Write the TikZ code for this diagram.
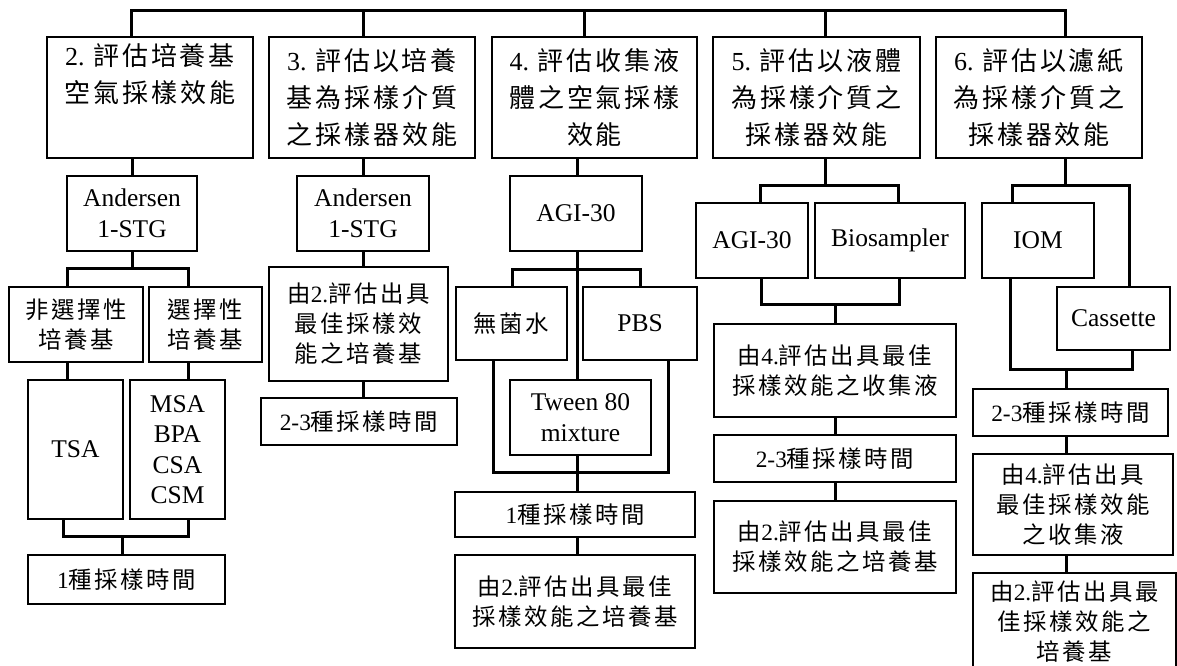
\documentclass[tikz,border=0pt]{standalone}
\usepackage{fontspec}
\setmainfont{Liberation Serif}
\newfontfamily\cjk[LetterSpace=11]{Noto Sans CJK TC}
\newcommand{\zh}[1]{{\cjk #1}}
\newcommand{\bigt}{\fontsize{26}{37}\selectfont}
\newcommand{\midt}{\fontsize{23.4}{30}\selectfont}
\newcommand{\latt}{\fontsize{25.5}{30.5}\selectfont}
\newcommand{\mybox}[7][\midt]{\node[box, font=#1, minimum width={#5-#3}, minimum height={#6-#4}] (#2) at ({(#3+#5)/2},{(#4+#6)/2}) {#7};}
\begin{document}
\begin{tikzpicture}[x=1pt, y=-1pt,
  box/.style={draw, line width=2.8pt, inner sep=0pt, align=center},
  conn/.style={draw, line width=3pt}]
\useasboundingbox (0,0) rectangle (1177,665);
\fill[white] (0,0) rectangle (1177,665);
\clip (0,0) rectangle (1177,665);
% top row
\mybox[\bigt]{t2}{47}{37}{253}{158}{2. \zh{評估培養基}\\\zh{空氣採樣效能}\\\strut}
\mybox[\bigt]{t3}{269}{37}{475}{158}{3. \zh{評估以培養}\\\zh{基為採樣介質}\\\zh{之採樣器效能}}
\mybox[\bigt]{t4}{492}{37}{697}{158}{4. \zh{評估收集液}\\\zh{體之空氣採樣}\\\zh{效能}}
\mybox[\bigt]{t5}{713}{37}{920}{158}{5. \zh{評估以液體}\\\zh{為採樣介質之}\\\zh{採樣器效能}}
\mybox[\bigt]{t6}{936}{37}{1142}{158}{6. \zh{評估以濾紙}\\\zh{為採樣介質之}\\\zh{採樣器效能}}
% column 2
\mybox[\latt]{a2}{67}{176}{197}{251}{Andersen\\1-STG}
\mybox{n2}{9}{287}{143}{362}{\zh{非選擇性}\\\zh{培養基}}
\mybox{s2}{149}{287}{262}{362}{\zh{選擇性}\\\zh{培養基}}
\mybox[\latt]{tsa}{28}{380}{123}{519}{TSA}
\mybox[\latt]{msa}{130}{380}{225}{519}{MSA\\BPA\\CSA\\CSM}
\mybox{o2}{28}{555}{225}{604}{1\zh{種採樣時間}}
% column 3
\mybox[\latt]{a3}{297}{176}{429}{251}{Andersen\\1-STG}
\mybox{b3}{269}{267}{448}{381}{\zh{由}2.\zh{評估出具}\\\zh{最佳採樣效}\\\zh{能之培養基}}
\mybox{c3}{261}{398}{457}{445}{2-3\zh{種採樣時間}}
% column 4
\mybox[\latt]{a4}{510}{176}{642}{251}{AGI-30}
\mybox{w4}{456}{287}{567}{360}{\zh{無菌水}}
\mybox[\latt]{p4}{583}{287}{697}{360}{PBS}
\mybox[\latt]{tw4}{510}{380}{651}{455}{Tween 80\\mixture}
\mybox{o4}{455}{492}{695}{537}{1\zh{種採樣時間}}
\mybox{d4}{455}{555}{695}{648}{\zh{由}2.\zh{評估出具最佳}\\\zh{採樣效能之培養基}}
% column 5
\mybox[\latt]{g5}{696}{203}{808}{278}{AGI-30}
\mybox[\latt]{bio5}{815}{203}{965}{278}{Biosampler}
\mybox{e5}{714}{324}{956}{417}{\zh{由}4.\zh{評估出具最佳}\\\zh{採樣效能之收集液}}
\mybox{f5}{714}{435}{956}{482}{2-3\zh{種採樣時間}}
\mybox{h5}{714}{501}{956}{593}{\zh{由}2.\zh{評估出具最佳}\\\zh{採樣效能之培養基}}
% column 6
\mybox[\latt]{iom}{982}{203}{1094}{278}{IOM}
\mybox[\latt]{cas}{1057}{287}{1170}{350}{Cassette}
\mybox{q6}{973}{389}{1168}{436}{2-3\zh{種採樣時間}}
\mybox{r6}{973}{454}{1173}{555}{\zh{由}4.\zh{評估出具}\\\zh{最佳採樣效能}\\\zh{之收集液}}
\mybox{s6}{973}{573}{1176}{671}{\zh{由}2.\zh{評估出具最}\\\zh{佳採樣效能之}\\\zh{培養基}}
% bus
\coordinate (busL) at (131,10);
\coordinate (busR) at (1065,10);
\coordinate (dd4) at (584,10);
\coordinate (dd5) at (825,10);
\draw[conn] (busL |- t2.north) -- (busL) -- (busR) -- (busR |- t6.north);
\draw[conn] (a3.north |- busL) -- (a3.north |- t3.north);
\draw[conn] (dd4) -- (dd4 |- t4.north);
\draw[conn] (dd5) -- (dd5 |- t5.north);
% column 2 connectors
\draw[conn] (a2.north |- t2.south) -- (a2.north);
\coordinate (j2L) at (67,268); \coordinate (j2R) at (188,268);
\draw[conn] (a2.south) -- (a2.south |- j2L);
\draw[conn] (j2L |- n2.north) -- (j2L) -- (j2R) -- (j2R |- s2.north);
\draw[conn] (j2L |- n2.south) -- (j2L |- tsa.north);
\draw[conn] (j2R |- s2.south) -- (j2R |- msa.north);
\coordinate (k2L) at (63,536); \coordinate (k2R) at (188,536); \coordinate (k2M) at (122,536);
\draw[conn] (k2L |- tsa.south) -- (k2L) -- (k2R) -- (k2R |- msa.south);
\draw[conn] (k2M) -- (k2M |- o2.north);
% column 3 connectors
\draw[conn] (a3.north |- t3.south) -- (a3.north);
\draw[conn] (a3.south) -- (a3.south |- b3.north);
\draw[conn] (a3.south |- b3.south) -- (a3.south |- c3.north);
% column 4 connectors
\coordinate (c4) at (577,0);
\draw[conn] (c4 |- t4.south) -- (c4 |- a4.north);
\draw[conn] (c4 |- a4.south) -- (c4 |- tw4.north);
\coordinate (j4L) at (512,269); \coordinate (j4R) at (640,269);
\draw[conn] (j4L |- w4.north) -- (j4L) -- (j4R) -- (j4R |- p4.north);
\coordinate (k4L) at (493,472); \coordinate (k4R) at (668,472);
\draw[conn] (k4L |- w4.south) -- (k4L) -- (k4R) -- (k4R |- p4.south);
\draw[conn] (c4 |- tw4.south) -- (c4 |- o4.north);
\draw[conn] (c4 |- o4.south) -- (c4 |- d4.north);
% column 5 connectors
\coordinate (m5) at (825,185); \coordinate (j5L) at (760,185); \coordinate (j5R) at (898,185);
\draw[conn] (m5 |- t5.south) -- (m5);
\draw[conn] (j5L |- g5.north) -- (j5L) -- (j5R) -- (j5R |- bio5.north);
\coordinate (k5L) at (761,304); \coordinate (k5R) at (899,304);
\draw[conn] (k5L |- g5.south) -- (k5L) -- (k5R) -- (k5R |- bio5.south);
\draw[conn] (e5.north |- k5L) -- (e5.north);
\draw[conn] (e5.south) -- (f5.north);
\draw[conn] (f5.south) -- (h5.north);
% column 6 connectors
\coordinate (m6) at (1065,185); \coordinate (j6L) at (1012,185); \coordinate (j6R) at (1129,185);
\draw[conn] (m6 |- t6.south) -- (m6);
\draw[conn] (j6L |- iom.north) -- (j6L) -- (j6R) -- (j6R |- cas.north);
\coordinate (k6L) at (1010,369); \coordinate (k6R) at (1132,369); \coordinate (k6M) at (1066,369);
\draw[conn] (k6L |- iom.south) -- (k6L) -- (k6R) -- (k6R |- cas.south);
\draw[conn] (k6M) -- (k6M |- q6.north);
\draw[conn] (k6M |- q6.south) -- (k6M |- r6.north);
\draw[conn] (k6M |- r6.south) -- (k6M |- s6.north);
\end{tikzpicture}
\end{document}
